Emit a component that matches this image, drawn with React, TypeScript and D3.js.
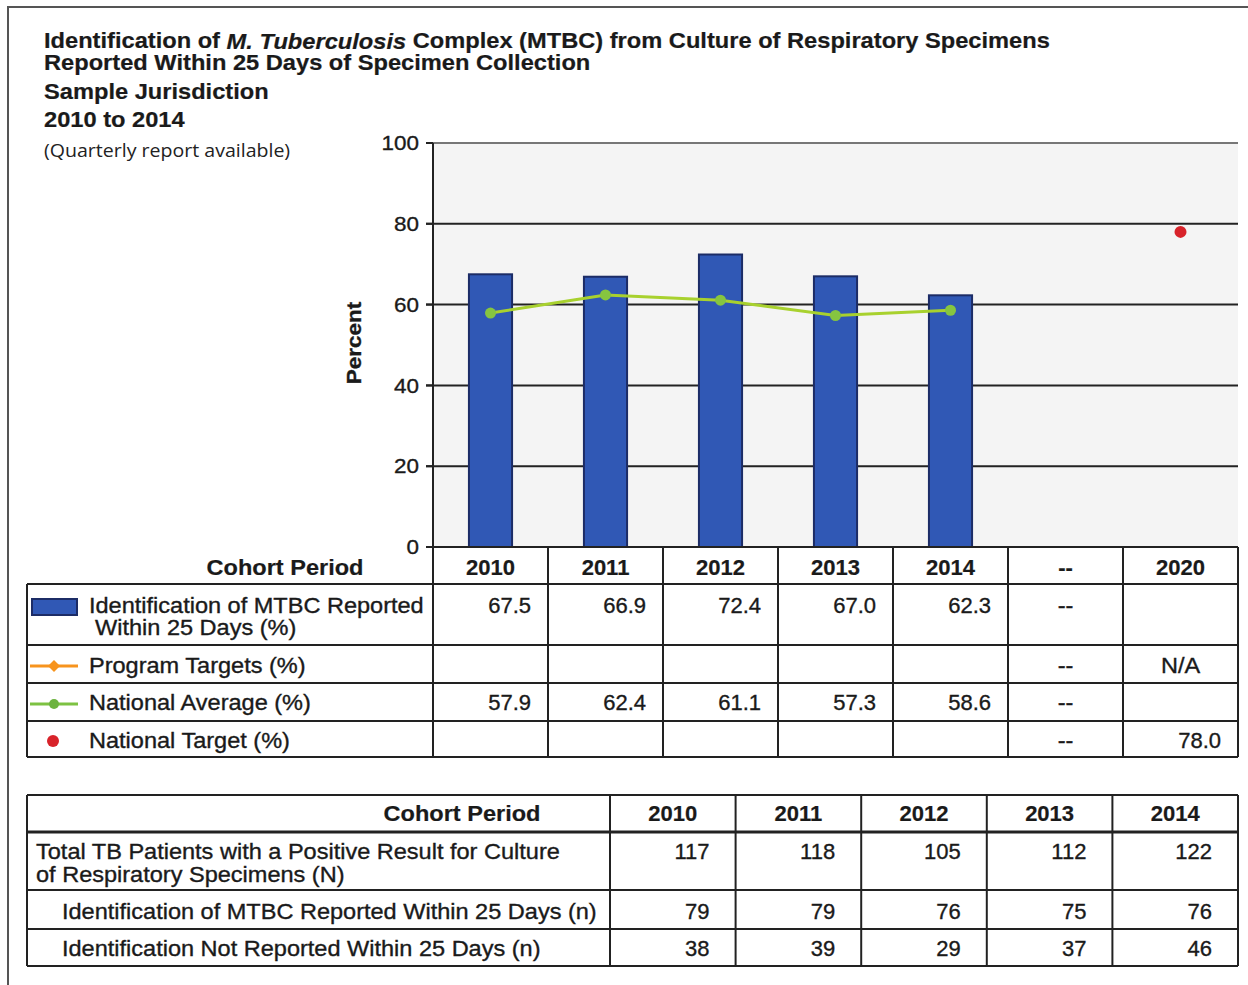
import React from "react";
import * as d3 from "d3";

const categories = ["2010", "2011", "2012", "2013", "2014", "--", "2020"];
const identPct: (number | null)[] = [67.5, 66.9, 72.4, 67.0, 62.3, null, null];
const programTargets: (string | null)[] = [null, null, null, null, null, "--", "N/A"];
const nationalAvg: (number | null)[] = [57.9, 62.4, 61.1, 57.3, 58.6, null, null];
const nationalTarget: (number | null)[] = [null, null, null, null, null, null, 78.0];
const yTicks = [0, 20, 40, 60, 80, 100];

const years2 = ["2010", "2011", "2012", "2013", "2014"];
const totalN = [117, 118, 105, 112, 122];
const reportedN = [79, 79, 76, 75, 76];
const notReportedN = [38, 39, 29, 37, 46];

const FONT = "'Liberation Sans', Arial, Helvetica, sans-serif";
const SX = 1.07;

type TP = {
  x: number; y: number; anchor?: "start" | "middle" | "end"; size?: number; bold?: boolean;
  rotate?: number; sx?: number; family?: string; fill?: string; sw?: number; children: React.ReactNode;
};
const Txt = ({ x, y, anchor = "start", size = 22, bold = false, rotate = 0, sx = SX, family = FONT, fill = "#1a1a1a", sw = 0.35, children }: TP) => (
  <text
    transform={`translate(${x},${y}) rotate(${rotate}) scale(${sx},1)`}
    textAnchor={anchor}
    dominantBaseline="central"
    fontSize={size}
    fontWeight={bold ? "bold" : "normal"}
    fontFamily={family}
    fill={fill}
    stroke={fill}
    strokeWidth={sw}
  >
    {children}
  </text>
);

export default function App() {
  const W = 1248, H = 985;
  const x = d3.scaleBand<string>().domain(categories).range([433, 1238]).padding(0);
  const y = d3.scaleLinear().domain([0, 100]).range([547, 143]);
  const bw = x.bandwidth();
  const barW = bw * 0.375;
  const cx = (c: string) => (x(c) as number) + bw / 2;

  const avgPts = categories
    .map((c, i) => ({ c, v: nationalAvg[i] }))
    .filter((d) => d.v != null) as { c: string; v: number }[];
  const line = d3.line<{ c: string; v: number }>().x((d) => cx(d.c)).y((d) => y(d.v));

  // table 1 layout
  const t1Left = 27, t1Right = 1238;
  const t1Rows = [584, 645, 683, 721, 757];
  const rowMid = [605, 665, 702, 740];
  const colEdges = [433, ...categories.map((c) => (x(c) as number) + bw)];

  // table 2 layout
  const t2Left = 27, t2Right = 1238, t2LabelRight = 610;
  const x2 = d3.scaleBand<string>().domain(years2).range([t2LabelRight, t2Right]).padding(0);
  const bw2 = x2.bandwidth();
  const t2Rows = [795, 832, 890, 929, 966];
  const t2Mid = [813, 851, 911, 948];

  const stroke = "#222";

  return (
    <svg width={W} height={H} style={{ position: "absolute", left: 0, top: 0, background: "#fff" }}>
      <rect x={0} y={0} width={W} height={H} fill="#fff" />
      {/* page frame */}
      <line x1={7} y1={7} x2={W} y2={7} stroke="#555" strokeWidth={2} />
      <line x1={8} y1={7} x2={8} y2={H} stroke="#555" strokeWidth={2} />

      {/* titles */}
      <Txt x={44} y={41} bold size={21.5} sx={1.1} sw={0.2}>
        Identification of <tspan fontStyle="italic">M. Tuberculosis</tspan> Complex (MTBC) from Culture of Respiratory Specimens
      </Txt>
      <Txt x={44} y={63} bold size={21.5} sx={1.1} sw={0.2}>Reported Within 25 Days of Specimen Collection</Txt>
      <Txt x={44} y={92} bold size={21.5} sx={1.1} sw={0.2}>Sample Jurisdiction</Txt>
      <Txt x={44} y={120} bold size={21.5} sx={1.1} sw={0.2}>2010 to 2014</Txt>
      <Txt x={44} y={150} size={19} sx={1.03} sw={0} family="'Open Sans', 'Noto Sans', sans-serif" fill="#222">
        (Quarterly report available)
      </Txt>

      {/* plot background */}
      <rect x={433} y={y(100)} width={1238 - 433} height={y(0) - y(100)} fill="#f4f4f4" />

      {/* gridlines */}
      {yTicks.filter((t) => t > 0).map((t) => (
        <line key={t} x1={426} x2={1238} y1={y(t)} y2={y(t)} stroke={t === 100 ? "#777" : stroke} strokeWidth={2} />
      ))}
      {/* ticks + labels */}
      {yTicks.map((t) => (
        <g key={"t" + t}>
          <line x1={426} x2={433} y1={y(t)} y2={y(t)} stroke={stroke} strokeWidth={2} />
          <Txt x={419} y={y(t)} anchor="end" size={21}>{t}</Txt>
        </g>
      ))}
      <Txt x={354} y={343} anchor="middle" bold size={21} rotate={-90}>Percent</Txt>

      {/* bars */}
      {categories.map((c, i) =>
        identPct[i] != null ? (
          <rect key={"b" + c} x={cx(c) - barW / 2} y={y(identPct[i] as number)} width={barW}
            height={y(0) - y(identPct[i] as number)} fill="#3058b5" stroke="#1c2c66" strokeWidth={2} />
        ) : null
      )}

      {/* national average line */}
      <path d={line(avgPts) || ""} fill="none" stroke="#a8d12e" strokeWidth={3} />
      {avgPts.map((d) => (
        <circle key={"a" + d.c} cx={cx(d.c)} cy={y(d.v)} r={5.5} fill="#86c540" />
      ))}
      {/* national target */}
      {categories.map((c, i) =>
        nationalTarget[i] != null ? (
          <circle key={"nt" + c} cx={cx(c)} cy={y(nationalTarget[i] as number)} r={6} fill="#d8232a" />
        ) : null
      )}

      {/* axis lines */}
      <line x1={433} x2={1238} y1={y(0)} y2={y(0)} stroke={stroke} strokeWidth={2} />
      <line x1={433} x2={433} y1={y(100)} y2={t1Rows[t1Rows.length - 1]} stroke={stroke} strokeWidth={2} />

      {/* table 1 */}
      {t1Rows.map((ry) => (
        <line key={"r" + ry} x1={t1Left} x2={t1Right} y1={ry} y2={ry} stroke={stroke} strokeWidth={2} />
      ))}
      <line x1={t1Left} x2={t1Left} y1={t1Rows[0]} y2={t1Rows[4]} stroke={stroke} strokeWidth={2} />
      {colEdges.slice(1).map((ex) => (
        <line key={"c" + ex} x1={ex} x2={ex} y1={y(0)} y2={t1Rows[4]} stroke={stroke} strokeWidth={2} />
      ))}
      <Txt x={285} y={567} anchor="middle" bold sw={0.2}>Cohort Period</Txt>
      {categories.map((c) => (
        <Txt key={"h" + c} x={cx(c)} y={567} anchor="middle" bold sx={1.0} sw={0.2}>{c}</Txt>
      ))}

      {/* legend symbols */}
      <rect x={32} y={599} width={45} height={16} fill="#3058b5" stroke="#1c2c66" strokeWidth={2} />
      <line x1={30} x2={78} y1={666} y2={666} stroke="#f7941d" strokeWidth={3} />
      <path d="M54,660 L60,666 L54,672 L48,666 Z" fill="#f7941d" />
      <line x1={30} x2={78} y1={704} y2={704} stroke="#7dc242" strokeWidth={3} />
      <circle cx={54} cy={704} r={5} fill="#6cb33f" />
      <circle cx={53} cy={741} r={6} fill="#d8232a" />

      <Txt x={89} y={605}>Identification of MTBC Reported</Txt>
      <Txt x={95} y={627}>Within 25 Days (%)</Txt>
      <Txt x={89} y={665}>Program Targets (%)</Txt>
      <Txt x={89} y={702}>National Average (%)</Txt>
      <Txt x={89} y={740}>National Target (%)</Txt>

      {categories.map((c, i) => {
        const right = (x(c) as number) + bw - 17;
        const center = cx(c);
        const cell = (v: number | string | null, yy: number, k: string) => {
          if (v == null) return null;
          if (c === "--" || v === "N/A") return <Txt key={k} x={center} y={yy} anchor="middle">{v}</Txt>;
          return <Txt key={k} x={right} y={yy} anchor="end" sx={1.0}>{typeof v === "number" ? v.toFixed(1) : v}</Txt>;
        };
        return (
          <g key={"v" + c}>
            {cell(c === "--" ? "--" : identPct[i], rowMid[0], "i")}
            {cell(programTargets[i], rowMid[1], "p")}
            {cell(c === "--" ? "--" : nationalAvg[i], rowMid[2], "n")}
            {cell(c === "--" ? "--" : nationalTarget[i], rowMid[3], "t")}
          </g>
        );
      })}

      {/* table 2 */}
      {t2Rows.map((ry, i) => (
        <line key={"r2" + ry} x1={t2Left} x2={t2Right} y1={ry} y2={ry} stroke={stroke} strokeWidth={i === 1 ? 3 : 2} />
      ))}
      {[t2Left, t2LabelRight, ...years2.map((yr) => (x2(yr) as number) + bw2)].map((ex) => (
        <line key={"c2" + ex} x1={ex} x2={ex} y1={t2Rows[0]} y2={t2Rows[4]} stroke={stroke} strokeWidth={2} />
      ))}
      <Txt x={462} y={t2Mid[0]} anchor="middle" bold sw={0.2}>Cohort Period</Txt>
      {years2.map((yr) => (
        <Txt key={"h2" + yr} x={(x2(yr) as number) + bw2 / 2} y={t2Mid[0]} anchor="middle" bold sx={1.0} sw={0.2}>{yr}</Txt>
      ))}
      <Txt x={36} y={851}>Total TB Patients with a Positive Result for Culture</Txt>
      <Txt x={36} y={874}>of Respiratory Specimens (N)</Txt>
      <Txt x={62} y={t2Mid[2]}>Identification of MTBC Reported Within 25 Days (n)</Txt>
      <Txt x={62} y={t2Mid[3]}>Identification Not Reported Within 25 Days (n)</Txt>
      {years2.map((yr, i) => {
        const right = (x2(yr) as number) + bw2 - 26;
        return (
          <g key={"v2" + yr}>
            <Txt x={right} y={t2Mid[1]} anchor="end" sx={1.0}>{totalN[i]}</Txt>
            <Txt x={right} y={t2Mid[2]} anchor="end" sx={1.0}>{reportedN[i]}</Txt>
            <Txt x={right} y={t2Mid[3]} anchor="end" sx={1.0}>{notReportedN[i]}</Txt>
          </g>
        );
      })}
    </svg>
  );
}
